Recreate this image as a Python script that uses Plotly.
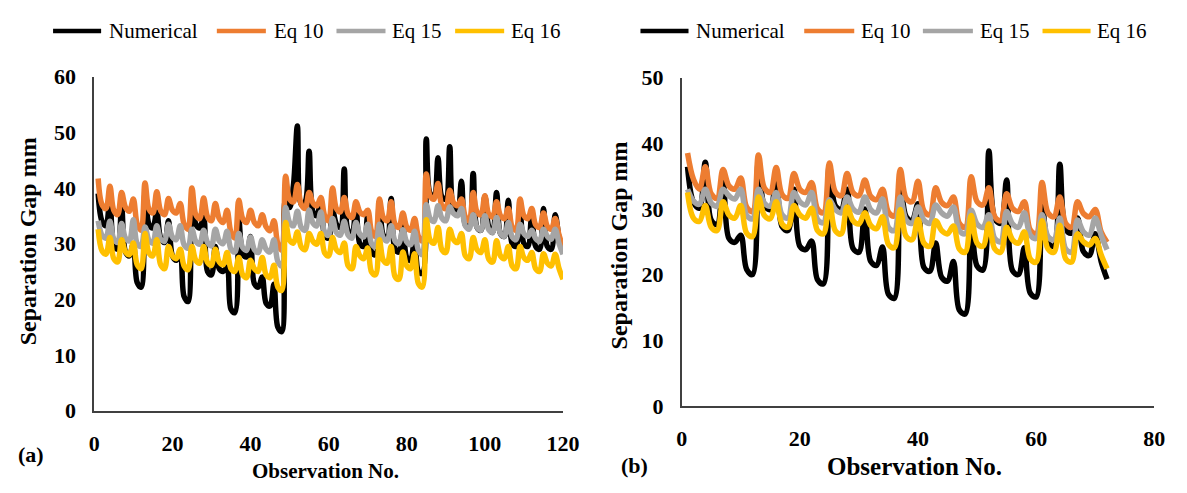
import plotly.graph_objects as go

W, H = 1187, 493

# ---------------- panel (a): 120 observations ----------------
obs_a = list(range(1, 121))

numerical_a = [
    39.0, 34.0, 33.2, 38.0, 29.8, 29.0, 36.6, 28.5, 27.8, 30.0, 23.0, 22.2,
    39.0, 33.5, 32.8, 35.7, 31.0, 30.2, 34.1, 27.8, 27.0, 28.0, 20.5, 19.6,
    37.5, 33.5, 32.8, 34.7, 25.0, 24.4, 29.5, 25.5, 25.0, 25.8, 18.2, 17.6,
    34.4, 28.2, 27.6, 31.3, 22.8, 22.2, 24.0, 19.3, 18.8, 22.7, 15.0, 14.2,
    38.0, 36.5, 40.5, 51.1, 37.0, 37.5, 46.6, 35.7, 35.0, 37.8, 31.5, 31.0,
    36.0, 33.5, 32.9, 43.4, 32.3, 31.8, 36.5, 30.0, 29.5, 35.0, 28.5, 28.0,
    37.5, 31.5, 31.0, 38.1, 29.0, 28.5, 33.5, 27.5, 27.0, 31.5, 25.0, 24.7,
    48.8, 39.0, 38.6, 45.4, 38.4, 38.0, 47.4, 36.2, 35.7, 41.2, 33.4, 32.9,
    42.6, 32.9, 32.4, 38.5, 33.0, 32.0, 39.2, 31.8, 31.3, 37.8, 30.0, 29.5,
    36.0, 30.0, 29.5, 35.0, 29.5, 29.0, 36.3, 29.5, 29.0, 35.2, 31.0, 28.5,
]

eq10_a = [
    41.7, 37.0, 36.3, 40.3, 36.0, 35.2, 39.2, 36.5, 35.8, 38.0, 33.5, 32.4,
    40.9, 36.2, 35.5, 39.3, 35.9, 35.2, 38.1, 36.0, 35.5, 37.2, 33.5, 32.6,
    40.0, 35.2, 34.5, 38.2, 34.8, 34.1, 37.2, 34.5, 33.8, 36.0, 32.0, 31.0,
    37.8, 34.5, 33.8, 36.0, 33.8, 33.2, 35.2, 33.0, 32.3, 34.1, 30.0, 28.8,
    42.1, 38.0, 37.5, 40.6, 37.0, 36.3, 39.2, 37.3, 36.8, 38.3, 35.0, 34.1,
    40.0, 36.3, 35.7, 38.3, 35.3, 34.7, 37.5, 35.7, 35.2, 36.0, 32.2, 31.3,
    38.0, 34.7, 34.1, 37.5, 33.5, 32.9, 35.5, 33.0, 32.4, 34.5, 31.3, 30.5,
    42.5, 38.5, 38.0, 40.8, 36.8, 36.3, 39.6, 37.3, 36.8, 38.0, 34.8, 34.1,
    39.2, 35.7, 35.2, 38.6, 35.3, 34.8, 37.5, 35.0, 34.5, 36.3, 33.0, 32.4,
    38.0, 35.0, 34.5, 36.3, 33.4, 32.9, 35.5, 33.1, 32.6, 34.5, 31.5, 29.5,
]

eq15_a = [
    34.1, 31.5, 31.0, 34.0, 30.8, 30.2, 33.6, 31.0, 30.5, 34.3, 30.0, 29.5,
    33.0, 30.6, 30.1, 33.2, 30.8, 30.4, 33.5, 31.2, 30.7, 33.2, 29.8, 29.2,
    32.6, 30.4, 29.9, 32.4, 30.2, 29.6, 32.6, 30.5, 30.0, 32.2, 29.0, 28.5,
    31.8, 29.3, 28.8, 31.2, 28.9, 28.4, 30.7, 29.0, 28.5, 30.7, 26.8, 26.0,
    36.5, 33.8, 33.2, 35.8, 32.9, 32.4, 36.0, 33.7, 33.2, 35.7, 32.0, 31.5,
    34.5, 32.0, 31.5, 34.0, 31.5, 31.0, 33.8, 31.7, 31.2, 33.5, 30.0, 29.5,
    33.5, 31.0, 30.5, 33.2, 30.5, 30.0, 32.5, 30.3, 29.8, 32.2, 28.8, 28.0,
    37.0, 34.5, 34.0, 36.8, 34.6, 34.1, 36.6, 35.4, 35.0, 36.3, 33.2, 32.6,
    35.2, 32.9, 32.4, 35.0, 32.5, 32.0, 34.7, 31.8, 31.3, 33.8, 31.2, 30.7,
    33.5, 31.8, 31.3, 32.4, 30.9, 30.4, 32.6, 31.3, 30.8, 32.6, 30.0, 28.1,
]

eq16_a = [
    32.6, 28.7, 28.1, 31.1, 27.3, 26.7, 30.7, 28.5, 28.0, 30.1, 26.2, 25.5,
    31.8, 28.3, 27.8, 30.7, 26.2, 25.5, 29.5, 27.8, 27.3, 29.0, 26.0, 25.3,
    29.5, 27.0, 26.5, 29.5, 26.6, 26.1, 29.0, 26.7, 26.2, 28.4, 25.5, 25.0,
    27.5, 24.4, 23.9, 27.0, 25.5, 25.0, 27.5, 24.4, 23.9, 26.1, 22.2, 21.6,
    33.8, 30.6, 30.1, 32.1, 29.4, 28.9, 31.8, 30.4, 29.9, 31.8, 28.3, 27.8,
    31.1, 28.9, 28.4, 30.1, 26.0, 25.5, 29.5, 27.8, 27.3, 29.2, 24.9, 24.4,
    30.7, 27.0, 26.5, 29.5, 24.1, 23.6, 28.5, 26.0, 25.5, 28.2, 22.8, 22.2,
    34.3, 30.6, 30.1, 32.9, 28.9, 28.4, 32.6, 30.7, 30.2, 31.8, 27.8, 27.3,
    31.1, 28.9, 28.4, 30.7, 27.2, 26.7, 30.5, 27.8, 27.3, 29.5, 26.0, 25.5,
    29.5, 27.5, 27.0, 28.4, 25.5, 25.0, 28.2, 26.5, 26.0, 28.1, 25.5, 23.6,
]

# ---------------- panel (b): 72 observations ----------------
obs_b = list(range(1, 73))

numerical_b = [
    36.4, 31.0, 30.1, 37.1, 28.3, 27.6, 34.4, 25.5, 24.9, 26.0, 20.8, 20.0,
    37.3, 30.5, 29.9, 35.0, 27.3, 26.7, 33.0, 24.3, 23.8, 25.1, 19.2, 18.6,
    36.6, 30.5, 29.9, 33.0, 24.0, 23.4, 30.0, 22.0, 21.4, 24.2, 17.0, 16.4,
    33.7, 28.8, 28.2, 30.8, 21.1, 20.5, 24.8, 19.6, 19.0, 22.0, 14.6, 14.0,
    28.0, 21.3, 20.7, 38.8, 28.5, 27.8, 34.4, 20.6, 20.0, 24.1, 17.2, 16.6,
    31.1, 24.9, 24.3, 36.8, 26.9, 26.3, 28.6, 23.5, 22.9, 26.2, 22.0, 19.3,
]

eq10_b = [
    38.5, 34.5, 33.0, 36.4, 32.3, 31.6, 36.0, 33.5, 33.0, 34.7, 30.3, 29.6,
    38.2, 33.2, 32.5, 36.3, 32.2, 31.6, 35.4, 33.0, 32.5, 34.0, 30.0, 29.4,
    37.0, 32.6, 32.0, 35.4, 32.5, 32.0, 34.4, 31.9, 31.4, 33.0, 29.5, 28.9,
    36.0, 31.6, 31.1, 34.2, 29.7, 29.1, 33.2, 31.0, 30.5, 31.8, 27.8, 27.2,
    34.9, 31.1, 30.6, 33.2, 28.8, 28.2, 32.3, 30.1, 29.6, 31.1, 26.8, 26.2,
    34.0, 29.4, 28.8, 31.8, 27.8, 27.2, 31.1, 29.3, 28.8, 29.9, 26.5, 24.9,
]

eq15_b = [
    33.0, 31.2, 30.7, 33.0, 30.9, 30.4, 33.0, 32.0, 31.5, 33.0, 29.0, 28.5,
    33.0, 30.9, 30.4, 32.5, 29.1, 28.6, 32.5, 31.1, 30.6, 32.5, 28.4, 27.9,
    31.4, 29.9, 29.4, 31.8, 30.0, 29.5, 31.8, 29.9, 29.4, 31.5, 27.2, 26.7,
    31.8, 28.3, 27.8, 30.3, 28.3, 27.8, 30.6, 29.4, 28.9, 30.3, 26.7, 26.2,
    29.8, 27.7, 27.2, 29.1, 25.5, 25.0, 29.6, 27.7, 27.2, 29.4, 26.0, 25.5,
    29.1, 25.8, 25.3, 28.6, 23.9, 23.4, 28.3, 26.5, 26.0, 28.6, 26.0, 23.8,
]

eq16_b = [
    32.5, 28.6, 28.1, 30.5, 27.2, 26.7, 31.1, 29.1, 28.6, 30.5, 26.3, 25.8,
    31.8, 29.0, 28.5, 31.1, 27.7, 27.2, 30.5, 29.1, 28.6, 30.1, 26.7, 26.2,
    31.1, 26.7, 26.2, 30.3, 28.2, 27.7, 29.4, 27.5, 27.0, 28.8, 24.6, 24.1,
    29.9, 25.8, 25.3, 28.4, 24.8, 24.3, 28.2, 26.7, 26.2, 27.4, 23.9, 23.4,
    29.0, 24.8, 24.3, 27.7, 23.9, 23.4, 27.2, 25.3, 24.8, 26.5, 22.4, 21.9,
    28.2, 23.9, 23.4, 27.5, 22.4, 21.9, 26.2, 25.0, 24.5, 25.5, 23.0, 20.9,
]

series_names = ["Numerical", "Eq 10", "Eq 15", "Eq 16"]
series_colors = ["#000000", "#ED7D31", "#A5A5A5", "#FFC000"]

FONT = "Liberation Serif"


def px(x):
    return x / W


def py(y):
    return 1 - y / H


fig = go.Figure()

for name, color, ys in zip(series_names, series_colors,
                           [numerical_a, eq10_a, eq15_a, eq16_a]):
    fig.add_trace(go.Scatter(
        x=obs_a, y=ys, name=name, mode="lines", showlegend=False,
        line=dict(color=color, width=5.5, shape="spline", smoothing=1.0),
        xaxis="x", yaxis="y"))

for name, color, ys in zip(series_names, series_colors,
                           [numerical_b, eq10_b, eq15_b, eq16_b]):
    fig.add_trace(go.Scatter(
        x=obs_b, y=ys, name=name, mode="lines", showlegend=False,
        line=dict(color=color, width=5.5, shape="spline", smoothing=1.0),
        xaxis="x2", yaxis="y2"))

tick_font = dict(family=FONT, size=22, color="#000000", weight="bold")
axis_common = dict(
    showgrid=False, zeroline=False, showline=True,
    linecolor="#404040", linewidth=1.5,
    ticks="outside", tickcolor="rgba(0,0,0,0)",
    tickfont=tick_font, fixedrange=True,
)

fig.update_layout(
    width=W, height=H,
    margin=dict(l=0, r=0, t=0, b=0),
    paper_bgcolor="white", plot_bgcolor="white",
    showlegend=False,
    xaxis=dict(domain=[px(90), px(568)], range=[0, 120], tickvals=[0, 20, 40, 60, 80, 100, 120],
               anchor="y", ticklen=12, **axis_common),
    yaxis=dict(domain=[py(420), py(68)], range=[0, 60], tickvals=[0, 10, 20, 30, 40, 50, 60],
               anchor="x", ticklen=12, **axis_common),
    xaxis2=dict(domain=[px(689), px(1171)], range=[0, 80], tickvals=[0, 20, 40, 60, 80],
                anchor="y2", ticklen=12, **axis_common),
    yaxis2=dict(domain=[py(415), py(69)], range=[0, 50], tickvals=[0, 10, 20, 30, 40, 50],
                anchor="x2", ticklen=12, **axis_common),
)

# legend keys drawn above each panel: (line start, line end, label start)
legend_rows = [
    [(48, 97, 103), (215, 265, 271), (337, 387, 392), (458, 508, 513)],
    [(647, 696, 702), (814, 865, 870), (935, 986, 991), (1057, 1106, 1111)],
]
LEGEND_Y = 20
for row in legend_rows:
    for (x0, x1, xt), name, color in zip(row, series_names, series_colors):
        fig.add_shape(type="line", xref="paper", yref="paper",
                      x0=px(x0), x1=px(x1), y0=py(LEGEND_Y), y1=py(LEGEND_Y),
                      line=dict(color=color, width=4.5))
        fig.add_annotation(xref="paper", yref="paper", showarrow=False,
                           x=px(xt), y=py(LEGEND_Y), xanchor="left", yanchor="middle",
                           text=name, font=dict(family=FONT, size=21, color="#000000"))

annotations = [
    dict(text="Observation No.", x=px(326), y=py(484), size=21),
    dict(text="Observation No.", x=px(926), y=py(479), size=25),
    dict(text="Separation Gap mm", x=px(22), y=py(242), size=24, textangle=-90),
    dict(text="Separation Gap mm", x=px(625), y=py(246), size=24, textangle=-90),
    dict(text="(a)", x=px(26), y=py(466), size=22),
    dict(text="(b)", x=px(641), y=py(478), size=22),
]
for a in annotations:
    size = a.pop("size")
    fig.add_annotation(xref="paper", yref="paper", showarrow=False,
                       xanchor="center", yanchor="middle",
                       font=dict(family=FONT, size=size, color="#000000", weight="bold"),
                       **a)

fig.write_html("out.html")
